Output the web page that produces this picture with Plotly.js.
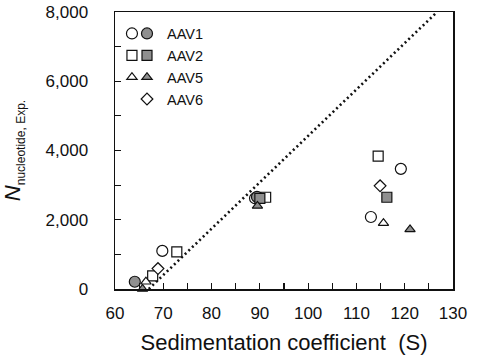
<!DOCTYPE html>
<html>
<head>
<meta charset="utf-8">
<script src="https://cdn.plot.ly/plotly-3.0.1.min.js"></script>
<style>html,body{margin:0;padding:0;background:#fff;}#chart{width:477px;height:355px;}</style>
</head>
<body>
<div id="chart"></div>
<script>
// Data
const aav1OpenX = [69.8, 89.0, 113.0, 119.2];
const aav1OpenY = [1100, 2620, 2080, 3470];
const aav1FilledX = [64.1, 89.4];
const aav1FilledY = [210, 2660];
const aav2OpenX = [67.8, 72.8, 91.2, 114.5];
const aav2OpenY = [380, 1070, 2650, 3840];
const aav2FilledX = [90.0, 116.3];
const aav2FilledY = [2620, 2650];
const aav5OpenX = [66.4, 115.6];
const aav5OpenY = [210, 1900];
const aav5FilledX = [65.7, 89.5, 121.1];
const aav5FilledY = [0, 2400, 1720];
const aav6X = [68.9, 114.9];
const aav6Y = [590, 2980];
const fitLineX = [67.0, 126.7];
const fitLineY = [0, 8000];

const grey = '#8f8f8f';
const FONT = 'Liberation Sans, Arial, sans-serif';

function mk(x, y, symbol, size, fill, name, legend) {
  return {
    type: 'scatter', mode: 'markers', x: x, y: y, name: name, legend: legend,
    cliponaxis: false,
    marker: {symbol: symbol, size: size, color: fill, line: {color: '#111', width: 1.2}}
  };
}

const traces = [
  {type: 'scatter', mode: 'lines', x: fitLineX, y: fitLineY, showlegend: false,
   line: {color: '#111', width: 2.6, dash: '2px,3px'}},
  mk(aav1OpenX, aav1OpenY, 'circle', 11, '#fff', '\u00a0', 'legend'),
  mk(aav2OpenX, aav2OpenY, 'square', 10, '#fff', '\u00a0', 'legend'),
  mk(aav5OpenX, aav5OpenY, 'triangle-up', 9, '#fff', '\u00a0', 'legend'),
  mk(aav1FilledX, aav1FilledY, 'circle', 11, grey, 'AAV1', 'legend2'),
  mk(aav2FilledX, aav2FilledY, 'square', 10, grey, 'AAV2', 'legend2'),
  mk(aav5FilledX, aav5FilledY, 'triangle-up', 9, grey, 'AAV5', 'legend2'),
  mk(aav6X, aav6Y, 'diamond', 9, '#fff', 'AAV6', 'legend2')
];

const legendCommon = {
  bgcolor: 'rgba(0,0,0,0)', borderwidth: 0, font: {family: FONT, size: 14.5, color: '#111'},
  xanchor: 'left', yanchor: 'top', traceorder: 'normal', itemclick: false
};

const layout = {
  width: 477, height: 355,
  margin: {l: 115, r: 24, t: 12, b: 66},
  paper_bgcolor: '#fff', plot_bgcolor: '#fff',
  font: {family: FONT, color: '#111'},
  showlegend: true,
  legend: Object.assign({}, legendCommon, {x: -0.009, y: 0.98}),
  legend2: Object.assign({}, legendCommon, {x: 0.0355, y: 0.98}),
  xaxis: {
    range: [60, 130], dtick: 10, tick0: 60,
    ticks: 'inside', ticklen: 6, tickwidth: 1.2, tickcolor: '#111',
    minor: {dtick: 5, ticks: 'inside', ticklen: 6, tickwidth: 1.2, tickcolor: '#111'},
    showgrid: false, zeroline: false,
    showline: true, mirror: true, linecolor: '#111', linewidth: 1.5,
    tickfont: {family: FONT, size: 17, color: '#111'},
    ticklabelstandoff: 8,
    title: {text: 'Sedimentation coefficient\u00a0\u00a0(S)', font: {family: FONT, size: 22, color: '#111'}, standoff: 14}
  },
  yaxis: {
    range: [0, 8000], dtick: 2000, tick0: 0, tickformat: ',d',
    ticks: 'inside', ticklen: 6, tickwidth: 1.2, tickcolor: '#111',
    minor: {dtick: 1000, ticks: 'inside', ticklen: 6, tickwidth: 1.2, tickcolor: '#111'},
    showgrid: false, zeroline: false,
    showline: true, mirror: true, linecolor: '#111', linewidth: 1.5,
    tickfont: {family: FONT, size: 17, color: '#111'},
    ticklabelstandoff: 22,
    title: {text: '<i>N</i><sub><span style="font-size:12px">nucleotide, Exp.</span></sub>', font: {family: FONT, size: 22, color: '#111'}, standoff: 19}
  }
};

Plotly.newPlot('chart', traces, layout, {staticPlot: true, displayModeBar: false});
</script>
</body>
</html>
